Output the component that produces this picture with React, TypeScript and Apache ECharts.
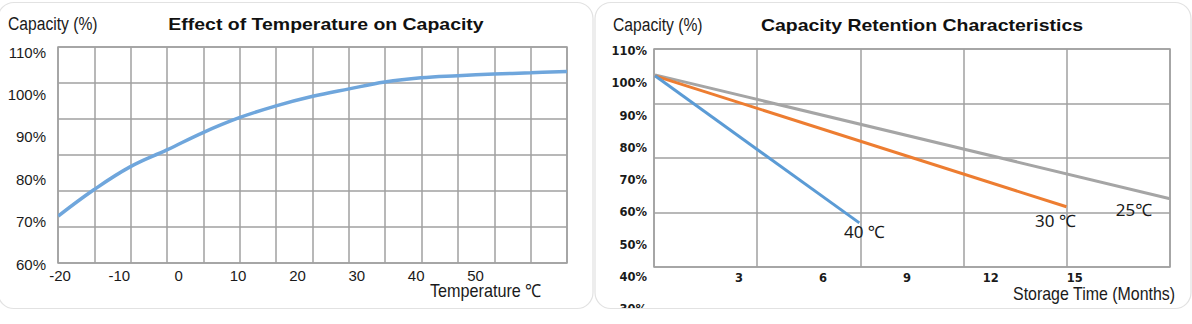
import React, { useEffect, useRef } from "react";
import * as echarts from "echarts";

// ---- Left chart: Effect of Temperature on Capacity ----
const temperatureC = [-20.3, -14.3, -8.2, -2.0, 4.1, 10.2, 16.4, 22.4, 28.7, 34.7, 40.8, 47.0, 53.1, 59.3, 65.4];
const capacityVsTemp = [71.3, 77.5, 82.9, 86.9, 91.0, 94.5, 97.3, 99.5, 101.3, 102.9, 103.9, 104.4, 104.8, 105.1, 105.4];
const tempTickLabels = [-20, -10, 0, 10, 20, 30, 40, 50];
const leftCapTickLabels = [60, 70, 80, 90, 100, 110];

// ---- Right chart: Capacity Retention Characteristics ----
const months40 = [0, 7.3];
const capacity40 = [102.3, 56.7];
const months30 = [0, 14.7];
const capacity30 = [102.3, 61.7];
const months25 = [0, 18.4];
const capacity25 = [102.6, 64.2];
const seriesNames = ["40 ℃", "30 ℃", "25℃"];
const monthTickLabels = [3, 6, 9, 12, 15];
const rightCapTickLabels = [30, 40, 50, 60, 70, 80, 90, 100, 110];

const GRID_COLOR = "#a0a0a0";
const SANS = "'Liberation Sans', Arial, sans-serif";

function pairs(xs: number[], ys: number[]) {
  return xs.map((x, i) => [x, ys[i]]);
}

function endLabel(text: string, offset: number[]) {
  return {
    show: true,
    formatter: text,
    align: "center",
    verticalAlign: "middle",
    distance: 0,
    offset,
    fontFamily: "'Noto Sans', sans-serif",
    fontSize: 17,
    color: "#1a1a1a",
  };
}

function gridAxis(gridIndex: number, max: number) {
  return {
    gridIndex,
    type: "value",
    min: 0,
    max,
    interval: 1,
    axisLine: { show: false },
    axisTick: { show: false },
    axisLabel: { show: false },
    splitLine: { show: true, lineStyle: { color: GRID_COLOR, width: 1.5 } },
  };
}

export default function App() {
  const ref = useRef<HTMLDivElement>(null);
  useEffect(() => {
    if (!ref.current) return;
    const chart = echarts.init(ref.current, undefined, { renderer: "svg" });
    const titleFont = `bold 16.5px ${SANS}`;
    const nameFont = `18px ${SANS}`;
    const rightLabel = {
      fontFamily: "'DejaVu Sans', sans-serif",
      fontSize: 11.5,
      fontWeight: "bold",
      color: "#1a1a1a",
    };
    const option: any = {
      animation: false,
      grid: [
        { left: 58, top: 47, width: 509, height: 216, show: true, borderColor: GRID_COLOR, borderWidth: 1.5, backgroundColor: "transparent" },
        { left: 60, top: 52, width: 507, height: 212 },
        { left: 654, top: 49, width: 516, height: 218, show: true, borderColor: GRID_COLOR, borderWidth: 1.5, backgroundColor: "transparent" },
        { left: 655, top: 51, width: 515, height: 258 },
      ],
      xAxis: [
        gridAxis(0, 14),
        {
          gridIndex: 1,
          type: "value",
          min: -20,
          max: 65.4,
          interval: 10,
          axisLine: { show: false },
          axisTick: { show: false },
          splitLine: { show: false },
          axisLabel: {
            margin: 4,
            fontFamily: SANS,
            fontSize: 15,
            color: "#1a1a1a",
            formatter: (v: number) => (tempTickLabels.includes(v) ? String(v) : ""),
          },
        },
        gridAxis(2, 5),
        {
          gridIndex: 3,
          type: "value",
          min: 0,
          max: 18.4,
          interval: 3,
          offset: -43,
          axisLine: { show: false },
          axisTick: { show: false },
          splitLine: { show: false },
          axisLabel: {
            margin: 6,
            ...rightLabel,
            formatter: (v: number) => (monthTickLabels.includes(v) ? String(v) : ""),
          },
        },
      ],
      yAxis: [
        gridAxis(0, 6),
        {
          gridIndex: 1,
          type: "value",
          min: 60,
          max: 110,
          interval: 10,
          axisLine: { show: false },
          axisTick: { show: false },
          splitLine: { show: false },
          axisLabel: {
            margin: 14,
            fontFamily: SANS,
            fontSize: 15,
            color: "#1a1a1a",
            formatter: (v: number) => (leftCapTickLabels.includes(v) ? v + "%" : ""),
          },
        },
        gridAxis(2, 4),
        {
          gridIndex: 3,
          type: "value",
          min: 30,
          max: 110,
          interval: 10,
          axisLine: { show: false },
          axisTick: { show: false },
          splitLine: { show: false },
          axisLabel: {
            margin: 8,
            ...rightLabel,
            formatter: (v: number) => (rightCapTickLabels.includes(v) ? v + "%" : ""),
          },
        },
      ],
      series: [
        {
          type: "line",
          xAxisIndex: 1,
          yAxisIndex: 1,
          data: pairs(temperatureC, capacityVsTemp),
          smooth: 0.4,
          showSymbol: false,
          lineStyle: { color: "#6fa6dc", width: 3.5 },
        },
        {
          type: "line",
          name: seriesNames[2],
          xAxisIndex: 3,
          yAxisIndex: 3,
          data: pairs(months25, capacity25),
          showSymbol: false,
          lineStyle: { color: "#a5a5a5", width: 3 },
          endLabel: endLabel(seriesNames[2], [-36, 11]),
        },
        {
          type: "line",
          name: seriesNames[1],
          xAxisIndex: 3,
          yAxisIndex: 3,
          data: pairs(months30, capacity30),
          showSymbol: false,
          lineStyle: { color: "#ed7d31", width: 3 },
          endLabel: endLabel(seriesNames[1], [-11, 14]),
        },
        {
          type: "line",
          name: seriesNames[0],
          xAxisIndex: 3,
          yAxisIndex: 3,
          data: pairs(months40, capacity40),
          showSymbol: false,
          lineStyle: { color: "#5b9bd5", width: 3 },
          endLabel: endLabel(seriesNames[0], [5, 9]),
        },
      ],
      graphic: [
        { type: "text", x: 8, y: 24, scaleX: 0.87, style: { text: "Capacity (%)", font: nameFont, fill: "#1a1a1a", verticalAlign: "middle" } },
        { type: "text", x: 326, y: 25, scaleX: 1.18, style: { text: "Effect of Temperature on Capacity", font: titleFont, fill: "#111", align: "center", verticalAlign: "middle" } },
        { type: "text", x: 430, y: 291, scaleX: 0.9, style: { text: "Temperature ℃", font: nameFont, fill: "#1a1a1a", verticalAlign: "middle" } },
        { type: "text", x: 613, y: 25, scaleX: 0.87, style: { text: "Capacity (%)", font: nameFont, fill: "#1a1a1a", verticalAlign: "middle" } },
        { type: "text", x: 922, y: 26, scaleX: 1.18, style: { text: "Capacity Retention Characteristics", font: titleFont, fill: "#111", align: "center", verticalAlign: "middle" } },
        { type: "text", x: 1013, y: 294, scaleX: 0.886, style: { text: "Storage Time (Months)", font: nameFont, fill: "#1a1a1a", verticalAlign: "middle" } },
        { type: "rect", z: 100, shape: { x: 596, y: 308.5, width: 596, height: 16 }, style: { fill: "#fff" } },
        { type: "rect", z: 101, shape: { x: -2, y: 2.5, width: 595, height: 306, r: 16 }, style: { fill: "none", stroke: "#e2e2e2", lineWidth: 1.2 } },
        { type: "rect", z: 101, shape: { x: 595, y: 2.5, width: 596, height: 306, r: 16 }, style: { fill: "none", stroke: "#e2e2e2", lineWidth: 1.2 } },
      ],
    };
    chart.setOption(option);
    return () => chart.dispose();
  }, []);
  return (
    <div
      ref={ref}
      style={{ position: "fixed", left: 0, top: 0, width: 1192, height: 324, background: "#fff" }}
    />
  );
}
